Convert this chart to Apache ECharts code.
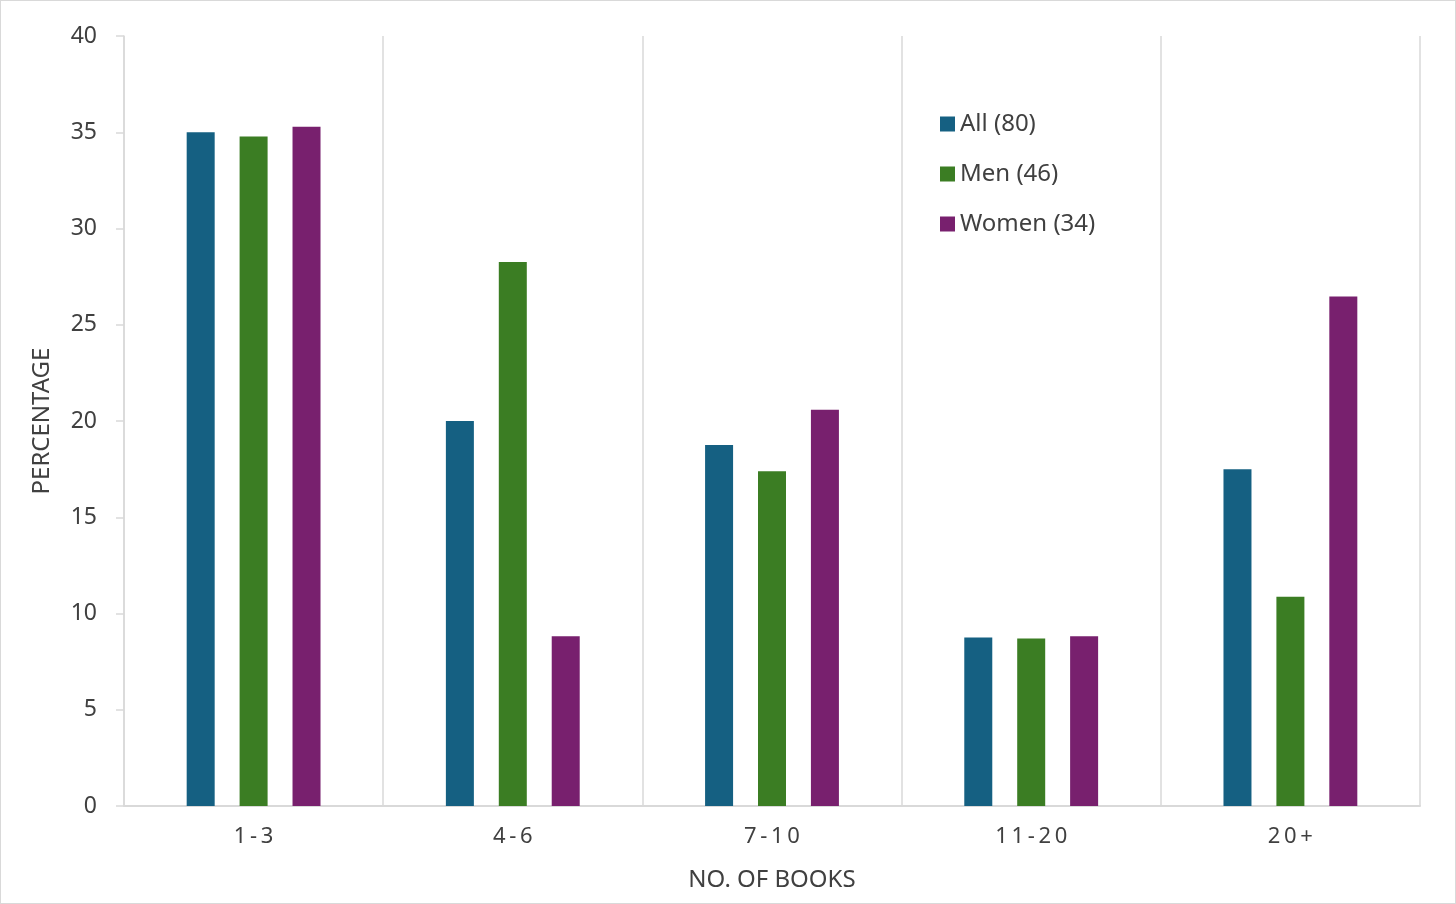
<!DOCTYPE html>
<html><head><meta charset="utf-8">
<script src="https://cdn.jsdelivr.net/npm/echarts@6/dist/echarts.min.js"></script>
<style>
html,body{margin:0;padding:0;background:#fff;}
#c{position:absolute;left:0;top:0;width:1454px;height:902px;border:1px solid #d9d9d9;}
</style></head>
<body><div id="c"></div>
<script>
const categories = ["1-3", "4-6", "7-10", "11-20", "20+"];
const seriesNames = ["All (80)", "Men (46)", "Women (34)"];
const allValues = [35.0, 20.0, 18.75, 8.75, 17.5];
const menValues = [34.78, 28.26, 17.39, 8.70, 10.87];
const womenValues = [35.29, 8.82, 20.59, 8.82, 26.47];
const colors = ["#156082", "#3b7d23", "#78206e"];

const chart = echarts.init(document.getElementById('c'));
const font = '"Noto Sans", "Open Sans", sans-serif';
const mk = (name, data, color) => ({
  name, type: 'bar', data, barWidth: 28, barGap: '89%',
  itemStyle: { color }
});
chart.setOption({
  animation: false,
  textStyle: { fontFamily: font },
  grid: { left: 123, right: 35, top: 35, bottom: 97, containLabel: false, outerBoundsMode: 'none' },
  legend: {
    orient: 'vertical', left: 934, top: 106, itemWidth: 15, itemHeight: 15,
    itemGap: 26, icon: 'rect',
    textStyle: { fontSize: 24, color: '#404040', fontFamily: font },
    data: seriesNames
  },
  xAxis: {
    type: 'category', data: categories,
    name: 'NO. OF BOOKS', nameLocation: 'middle', nameGap: 62,
    nameTextStyle: { fontSize: 24, color: '#404040' },
    axisLine: { lineStyle: { color: '#d9d9d9', width: 2 } },
    axisTick: { show: false },
    axisLabel: { fontSize: 22, color: '#404040', margin: 20,
      formatter: v => v.split('').join('\u2009') },
    splitLine: { show: true, lineStyle: { color: '#d9d9d9', width: 1.5 } }
  },
  yAxis: {
    type: 'value', min: 0, max: 40, interval: 5,
    name: 'PERCENTAGE', nameLocation: 'middle', nameGap: 70,
    nameTextStyle: { fontSize: 24, color: '#404040' },
    axisLine: { show: true, lineStyle: { color: '#d9d9d9', width: 1.5 } },
    axisTick: { show: true, length: 8, lineStyle: { color: '#d9d9d9', width: 1.5 } },
    axisLabel: { fontSize: 23, color: '#404040', margin: 27 },
    splitLine: { show: false }
  },
  series: [
    mk(seriesNames[0], allValues, colors[0]),
    mk(seriesNames[1], menValues, colors[1]),
    mk(seriesNames[2], womenValues, colors[2])
  ]
});
</script></body></html>
